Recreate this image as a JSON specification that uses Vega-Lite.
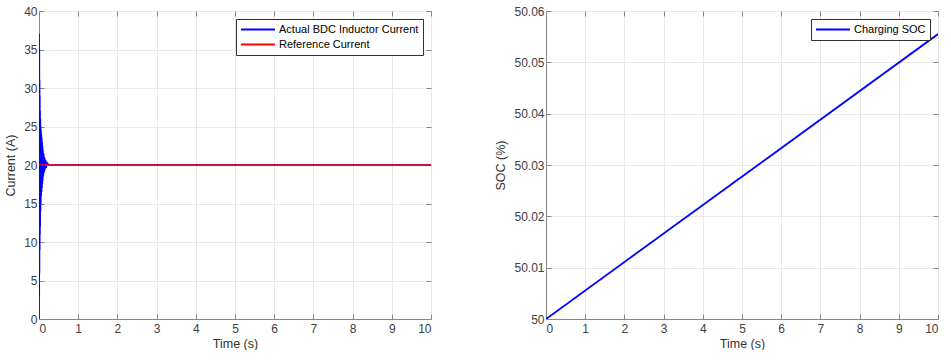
{
  "$schema": "https://vega.github.io/schema/vega-lite/v6.json",
  "padding": {"left": 4, "top": 4, "right": 5, "bottom": 0},
  "background": "white",
  "spacing": 62,
  "config": {
    "font": "Liberation Sans",
    "view": {"stroke": "#888888", "strokeWidth": 1},
    "axis": {
      "domainColor": "#888888",
      "tickColor": "#888888",
      "tickSize": -5,
      "gridColor": "#e8e8e8",
      "labelColor": "#404040",
      "labelFontSize": 12,
      "labelFont": "Liberation Sans",
      "titleFont": "Liberation Sans",
      "titleFontSize": 12.5,
      "titleFontWeight": "normal",
      "titleColor": "#333333",
      "labelPadding": 7,
      "titlePadding": 6
    },
    "axisX": {"labelPadding": 9, "titlePadding": 3},
    "legend": {
      "orient": "top-right",
      "offset": 8,
      "strokeColor": "#333333",
      "fillColor": "white",
      "padding": 4,
      "symbolType": "stroke",
      "symbolStrokeWidth": 2,
      "symbolSize": 1150,
      "clipHeight": 13,
      "labelFontSize": 11,
      "labelOffset": 3,
      "labelColor": "#000000",
      "labelFont": "Liberation Sans",
      "rowPadding": 2,
      "cornerRadius": 0
    }
  },
  "datasets": {
    "current": [
      {"t": 0, "i": 0, "s": "Actual BDC Inductor Current"},
      {"t": 0.003, "i": 37, "s": "Actual BDC Inductor Current"},
      {"t": 0.006, "i": 3, "s": "Actual BDC Inductor Current"},
      {"t": 0.009, "i": 35, "s": "Actual BDC Inductor Current"},
      {"t": 0.012, "i": 6, "s": "Actual BDC Inductor Current"},
      {"t": 0.015, "i": 31, "s": "Actual BDC Inductor Current"},
      {"t": 0.018, "i": 9, "s": "Actual BDC Inductor Current"},
      {"t": 0.021, "i": 29, "s": "Actual BDC Inductor Current"},
      {"t": 0.024, "i": 11, "s": "Actual BDC Inductor Current"},
      {"t": 0.027, "i": 27, "s": "Actual BDC Inductor Current"},
      {"t": 0.03, "i": 12, "s": "Actual BDC Inductor Current"},
      {"t": 0.034, "i": 26, "s": "Actual BDC Inductor Current"},
      {"t": 0.038, "i": 14, "s": "Actual BDC Inductor Current"},
      {"t": 0.042, "i": 25, "s": "Actual BDC Inductor Current"},
      {"t": 0.046, "i": 15, "s": "Actual BDC Inductor Current"},
      {"t": 0.05, "i": 24.5, "s": "Actual BDC Inductor Current"},
      {"t": 0.055, "i": 16, "s": "Actual BDC Inductor Current"},
      {"t": 0.06, "i": 24, "s": "Actual BDC Inductor Current"},
      {"t": 0.065, "i": 16.5, "s": "Actual BDC Inductor Current"},
      {"t": 0.07, "i": 23.5, "s": "Actual BDC Inductor Current"},
      {"t": 0.075, "i": 17, "s": "Actual BDC Inductor Current"},
      {"t": 0.08, "i": 23, "s": "Actual BDC Inductor Current"},
      {"t": 0.085, "i": 17.5, "s": "Actual BDC Inductor Current"},
      {"t": 0.09, "i": 22.5, "s": "Actual BDC Inductor Current"},
      {"t": 0.095, "i": 18, "s": "Actual BDC Inductor Current"},
      {"t": 0.1, "i": 22, "s": "Actual BDC Inductor Current"},
      {"t": 0.11, "i": 18.5, "s": "Actual BDC Inductor Current"},
      {"t": 0.12, "i": 21.5, "s": "Actual BDC Inductor Current"},
      {"t": 0.13, "i": 19, "s": "Actual BDC Inductor Current"},
      {"t": 0.14, "i": 21, "s": "Actual BDC Inductor Current"},
      {"t": 0.15, "i": 19.3, "s": "Actual BDC Inductor Current"},
      {"t": 0.16, "i": 20.7, "s": "Actual BDC Inductor Current"},
      {"t": 0.18, "i": 19.6, "s": "Actual BDC Inductor Current"},
      {"t": 0.2, "i": 20.3, "s": "Actual BDC Inductor Current"},
      {"t": 0.25, "i": 20, "s": "Actual BDC Inductor Current"},
      {"t": 10, "i": 20, "s": "Actual BDC Inductor Current"},
      {"t": 0, "i": 20, "s": "Reference Current"},
      {"t": 10, "i": 20, "s": "Reference Current"}
    ],
    "soc": [
      {"t": 0, "soc": 50, "s": "Charging SOC"},
      {"t": 10, "soc": 50.0555, "s": "Charging SOC"}
    ]
  },
  "hconcat": [
    {
      "width": 392,
      "height": 308,
      "data": {"name": "current"},
      "layer": [
        {
          "mark": {"type": "line", "strokeWidth": 1.6, "clip": true},
          "encoding": {
            "x": {"field": "t", "type": "quantitative", "title": "Time (s)",
                  "scale": {"domain": [0, 10], "nice": false},
                  "axis": {"values": [0,1,2,3,4,5,6,7,8,9,10]}},
            "y": {"field": "i", "type": "quantitative", "title": "Current (A)",
                  "scale": {"domain": [0, 40], "nice": false},
                  "axis": {"values": [0,5,10,15,20,25,30,35,40]}},
            "color": {"field": "s", "type": "nominal",
                      "scale": {"domain": ["Actual BDC Inductor Current", "Reference Current"], "range": ["#0000ff", "#ff0000"]},
                      "legend": {"title": null}},
            "order": {"field": "s", "sort": "ascending"}
          }
        },
        {
          "mark": {"type": "line", "strokeOpacity": 0},
          "encoding": {
            "x": {"field": "t", "type": "quantitative",
                  "axis": {"orient": "top", "values": [0,1,2,3,4,5,6,7,8,9,10], "labels": false, "title": null, "grid": false, "domain": false}},
            "y": {"field": "i", "type": "quantitative",
                  "axis": {"orient": "right", "values": [0,5,10,15,20,25,30,35,40], "labels": false, "title": null, "grid": false, "domain": false}}
          }
        }
      ],
      "resolve": {"axis": {"x": "independent", "y": "independent"}}
    },
    {
      "width": 392,
      "height": 308,
      "data": {"name": "soc"},
      "layer": [
        {
          "mark": {"type": "line", "strokeWidth": 1.8, "clip": true},
          "encoding": {
            "x": {"field": "t", "type": "quantitative", "title": "Time (s)",
                  "scale": {"domain": [0, 10], "nice": false},
                  "axis": {"values": [0,1,2,3,4,5,6,7,8,9,10]}},
            "y": {"field": "soc", "type": "quantitative", "title": "SOC (%)",
                  "scale": {"domain": [50, 50.06], "nice": false, "zero": false},
                  "axis": {"values": [50, 50.01, 50.02, 50.03, 50.04, 50.05, 50.06], "format": ".2~f"}},
            "color": {"field": "s", "type": "nominal",
                      "scale": {"domain": ["Charging SOC"], "range": ["#0000ff"]},
                      "legend": {"title": null}}
          }
        },
        {
          "mark": {"type": "line", "strokeOpacity": 0},
          "encoding": {
            "x": {"field": "t", "type": "quantitative",
                  "axis": {"orient": "top", "values": [0,1,2,3,4,5,6,7,8,9,10], "labels": false, "title": null, "grid": false, "domain": false}},
            "y": {"field": "soc", "type": "quantitative",
                  "axis": {"orient": "right", "values": [50, 50.01, 50.02, 50.03, 50.04, 50.05, 50.06], "labels": false, "title": null, "grid": false, "domain": false}}
          }
        }
      ],
      "resolve": {"axis": {"x": "independent", "y": "independent"}}
    }
  ],
  "resolve": {"scale": {"color": "independent"}, "legend": {"color": "independent"}}
}
